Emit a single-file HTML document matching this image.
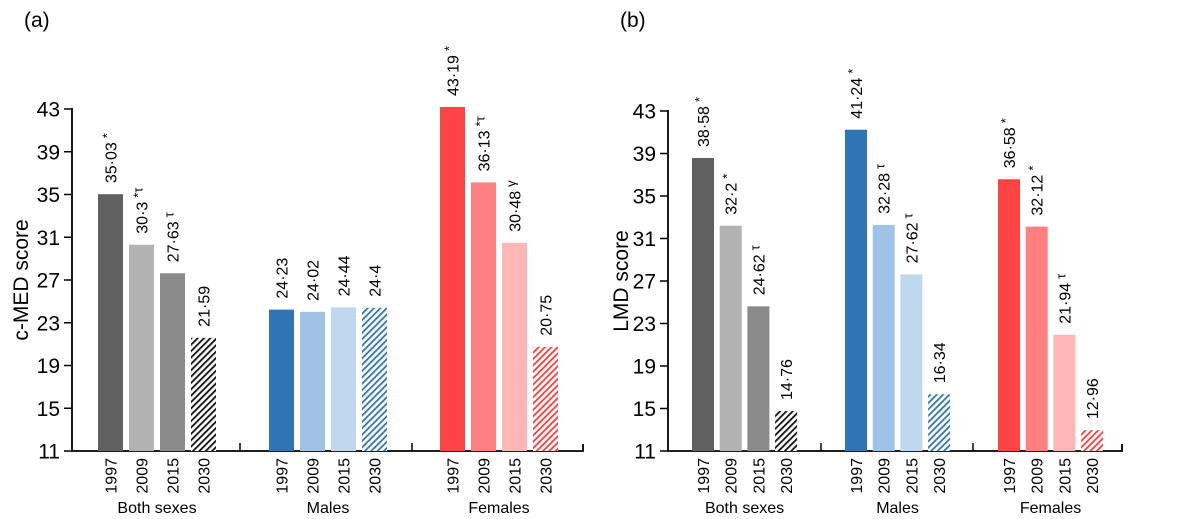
<!DOCTYPE html>
<html><head><meta charset="utf-8"><style>
html,body{margin:0;padding:0;background:#fff}
svg{display:block;font-family:"Liberation Sans",Arial,sans-serif}
</style></head><body>
<svg id="c" width="1183" height="519" viewBox="0 0 1183 519">
<defs>
<pattern id="hk" width="4.5" height="4.5" patternUnits="userSpaceOnUse" patternTransform="rotate(45)"><rect width="4.5" height="4.5" fill="#fff"/><rect width="1.8" height="4.5" fill="#111"/></pattern>
<pattern id="hb" width="4.5" height="4.5" patternUnits="userSpaceOnUse" patternTransform="rotate(45)"><rect width="4.5" height="4.5" fill="#fff"/><rect width="1.8" height="4.5" fill="#2f74b5"/></pattern>
<pattern id="hr" width="4.5" height="4.5" patternUnits="userSpaceOnUse" patternTransform="rotate(45)"><rect width="4.5" height="4.5" fill="#fff"/><rect width="1.8" height="4.5" fill="#ff3a3a"/></pattern>
</defs>
</svg>
<script>
const groups=["Both sexes","Males","Females"];
const years=["1997","2009","2015","2030"];
const yTicks=[11,15,19,23,27,31,35,39,43];
const cmedValues=[[35.03,30.3,27.63,21.59],[24.23,24.02,24.44,24.4],[43.19,36.13,30.48,20.75]];
const cmedLabels=[["35·03","30·3","27·63","21·59"],["24·23","24·02","24·44","24·4"],["43·19","36·13","30·48","20·75"]];
const cmedMarks=[["*","*τ","τ",""],["","","",""],["*","*τ","γ",""]];
const lmdValues=[[38.58,32.2,24.62,14.76],[41.24,32.28,27.62,16.34],[36.58,32.12,21.94,12.96]];
const lmdLabels=[["38·58","32·2","24·62","14·76"],["41·24","32·28","27·62","16·34"],["36·58","32·12","21·94","12·96"]];
const lmdMarks=[["*","*","τ",""],["*","τ","τ",""],["*","*","τ",""]];
const fills=[["#606060","#b2b2b2","#8a8a8a","url(#hk)"],["#2f74b5","#9fc3e7","#bfd8ef","url(#hb)"],["#ff4444","#ff8080","#ffb6b6","url(#hr)"]];
const NS="http://www.w3.org/2000/svg";
const svg=document.getElementById('c');
function mk(t,a,p){const e=document.createElementNS(NS,t);for(const k in a)e.setAttribute(k,a[k]);(p||svg).appendChild(e);return e;}
function panel(cfg){
  const g=mk('g',{});
  
  
  const y=v=>cfg.y0-(v-11)*(cfg.y0-cfg.y1)/32;
  const ax=mk('path',{d:`M${cfg.ax},${cfg.y1-1}V${cfg.y0}H${cfg.axEnd}V${cfg.y0-7}`,stroke:'#000','stroke-width':1.8,fill:'none'},g);
  
  
  yTicks.forEach(t=>{
    mk('line',{x1:cfg.ax-8,x2:cfg.ax,y1:y(t),y2:y(t),stroke:'#000','stroke-width':1.5},g);
    const tx=mk('text',{x:cfg.ax-12,y:y(t)+7.5,'text-anchor':'end','font-size':21},g);tx.textContent=t;
    
    
  });
  cfg.dividers.forEach(d=>mk('line',{x1:d,x2:d,y1:cfg.y0-8,y2:cfg.y0,stroke:'#000','stroke-width':1.5},g));
  const yt=mk('text',{transform:`translate(${cfg.titleX},${(cfg.y0+cfg.y1)/2}) rotate(-90)`,'text-anchor':'middle','font-size':21},g);yt.textContent=cfg.title;
  
  
  const pl=mk('text',{x:cfg.ax-48,y:27,'font-size':21},g);pl.textContent=cfg.letter;
  
  
  groups.forEach((gn,gi)=>{
    const gx=cfg.gx0+gi*cfg.gstep;
    years.forEach((yr,i)=>{
      const v=cfg.values[gi][i];
      const x=gx+i*cfg.step;
      const b=mk('rect',{x:x,y:y(v),width:cfg.bw,height:cfg.y0-y(v),fill:fills[gi][i]},g);
      
      
      const cx=x+cfg.bw/2+6;
      const lt=mk('text',{transform:`translate(${cx},${y(v)-11}) rotate(-90)`,'font-size':16},g);
      lt.textContent=cfg.labels[gi][i];
      if(cfg.marks[gi][i]){const ts=mk('tspan',{'font-size':13,dy:-5,dx:4},lt);ts.textContent=cfg.marks[gi][i];}
      
      
      const yl=mk('text',{transform:`translate(${cx},${cfg.y0+7}) rotate(-90)`,'text-anchor':'end','font-size':16},g);yl.textContent=yr;
      
      
    });
    const gl=mk('text',{x:gx+(3*cfg.step+cfg.bw)/2,y:513,'text-anchor':'middle','font-size':16},g);gl.textContent=gn;
    
    
  });
}
panel({id:'panel-a-cmed',letter:'(a)',title:'c-MED score',ax:72,axEnd:583,y0:451,y1:109,gx0:98,gstep:171,step:31,bw:25,dividers:[240,412],titleX:28,values:cmedValues,labels:cmedLabels,marks:cmedMarks});
panel({id:'panel-b-lmd',letter:'(b)',title:'LMD score',ax:668,axEnd:1122,y0:451,y1:111,gx0:692,gstep:153,step:27.7,bw:22,dividers:[821,973],titleX:628,values:lmdValues,labels:lmdLabels,marks:lmdMarks});
</script>
</body></html>
